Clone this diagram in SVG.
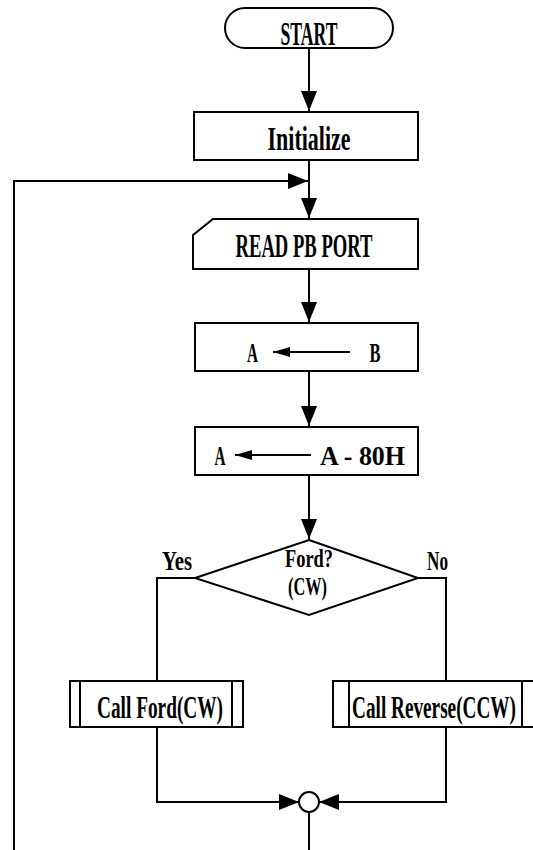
<svg xmlns="http://www.w3.org/2000/svg" width="533" height="850" viewBox="0 0 533 850">
<style>
.s{fill:#fff;stroke:#000;stroke-width:2}
.c{fill:none;stroke:#000;stroke-width:2}
.t{font-family:"Liberation Serif","DejaVu Serif",serif;font-weight:bold;text-anchor:middle;fill:#000}
</style>
<defs>
<marker id="ah" markerUnits="userSpaceOnUse" markerWidth="20" markerHeight="16" refX="20" refY="8" orient="auto">
<path d="M0,0 L20,8 L0,16 z" fill="#000"/>
</marker>
<marker id="ahs" markerUnits="userSpaceOnUse" markerWidth="17" markerHeight="10" refX="17" refY="5" orient="auto">
<path d="M0,0 L17,5 L0,10 z" fill="#000"/>
</marker>
</defs>
<rect width="533" height="850" fill="#fff"/>
<g id="connectors">
<line class="c" x1="309" y1="48" x2="309" y2="111" marker-end="url(#ah)"/>
<line class="c" x1="309" y1="160" x2="309" y2="218" marker-end="url(#ah)"/>
<polyline class="c" points="14,850 14,181 308,181" marker-end="url(#ah)"/>
<line class="c" x1="309" y1="269" x2="309" y2="322" marker-end="url(#ah)"/>
<line class="c" x1="309" y1="371" x2="309" y2="426" marker-end="url(#ah)"/>
<line class="c" x1="309" y1="475" x2="309" y2="539" marker-end="url(#ah)"/>
<polyline class="c" points="195,578 157,578 157,681"/>
<polyline class="c" points="418,578 446,578 446,681"/>
<polyline class="c" points="157,727 157,802 299,802" marker-end="url(#ah)"/>
<polyline class="c" points="446,727 446,802 319,802" marker-end="url(#ah)"/>
<line class="c" x1="309" y1="812" x2="309" y2="850"/>
</g>
<g id="start">
<rect class="s" x="225" y="8" width="168" height="40" rx="20"/>
<text class="t" x="309" y="45" font-size="33" textLength="57" lengthAdjust="spacingAndGlyphs">START</text>
</g>
<g id="initialize">
<rect class="s" x="194" y="112" width="224" height="48"/>
<text class="t" x="309" y="150" font-size="33" textLength="83" lengthAdjust="spacingAndGlyphs">Initialize</text>
</g>
<g id="read">
<path class="s" d="M213,219 L418,219 L418,269 L193,269 L193,235 Z"/>
<text class="t" x="304" y="257" font-size="33" textLength="137" lengthAdjust="spacingAndGlyphs">READ PB PORT</text>
</g>
<g id="assignAB">
<rect class="s" x="195" y="323" width="223" height="48"/>
<text class="t" x="252.5" y="362" font-size="28" textLength="11" lengthAdjust="spacingAndGlyphs">A</text>
<line class="c" x1="350" y1="352" x2="273" y2="352" marker-end="url(#ahs)"/>
<text class="t" x="375" y="362" font-size="28" textLength="11" lengthAdjust="spacingAndGlyphs">B</text>
</g>
<g id="subtract">
<rect class="s" x="195" y="427" width="223" height="48"/>
<text class="t" x="220" y="465" font-size="28" textLength="11" lengthAdjust="spacingAndGlyphs">A</text>
<line class="c" x1="311" y1="455" x2="235" y2="455" marker-end="url(#ahs)"/>
<text class="t" x="362.5" y="465" font-size="28" textLength="85" lengthAdjust="spacingAndGlyphs">A - 80H</text>
</g>
<g id="decision">
<polygon class="s" points="309,540 418,578 309,615 195,578"/>
<text class="t" x="309" y="567" font-size="26" textLength="48" lengthAdjust="spacingAndGlyphs">Ford?</text>
<text class="t" x="307.5" y="595" font-size="26" textLength="39" lengthAdjust="spacingAndGlyphs">(CW)</text>
</g>
<g id="labels">
<text class="t" x="177" y="570" font-size="28" textLength="30" lengthAdjust="spacingAndGlyphs">Yes</text>
<text class="t" x="437.5" y="570" font-size="28" textLength="21" lengthAdjust="spacingAndGlyphs">No</text>
</g>
<g id="callFord">
<rect class="s" x="70" y="681" width="173" height="46"/>
<line class="c" x1="80" y1="681" x2="80" y2="727"/>
<line class="c" x1="232" y1="681" x2="232" y2="727"/>
<text class="t" x="160" y="718" font-size="32" textLength="126" lengthAdjust="spacingAndGlyphs">Call Ford(CW)</text>
</g>
<g id="callReverse">
<rect class="s" x="333" y="681" width="201" height="46"/>
<line class="c" x1="349" y1="681" x2="349" y2="727"/>
<line class="c" x1="522" y1="681" x2="522" y2="727"/>
<text class="t" transform="translate(434,718) scale(0.6,1)" x="0" y="0" font-size="32" textLength="273" lengthAdjust="spacingAndGlyphs">Call Reverse(CCW)</text>
</g>
<g id="join">
<circle class="s" cx="309" cy="802" r="10"/>
</g>
</svg>
